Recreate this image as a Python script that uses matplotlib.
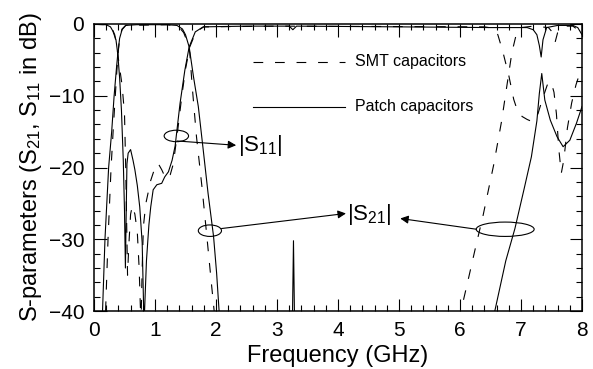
import matplotlib
matplotlib.use("Agg")
import matplotlib.pyplot as plt
from matplotlib.patches import Ellipse
from matplotlib.ticker import MultipleLocator

plt.rcParams["font.family"] = ["Liberation Sans", "DejaVu Sans"]
plt.rcParams["mathtext.fontset"] = "custom"
plt.rcParams["mathtext.rm"] = "Liberation Sans"
plt.rcParams["mathtext.it"] = "Liberation Sans"
plt.rcParams["lines.scale_dashes"] = False

# |S21| with patch capacitors (solid)
f_s21_patch = [0.13, 0.14, 0.18, 0.24, 0.29, 0.33, 0.37, 0.39, 0.42, 0.46, 0.52, 0.7,
               1.2, 1.36, 1.45, 1.50, 1.56, 1.63, 1.71, 1.79, 1.87, 1.96, 2.01, 2.05,
               2.08, 3.25, 3.27, 3.29, 6.50, 6.57, 6.75, 6.90, 7.05, 7.17, 7.26, 7.30,
               7.34, 7.39, 7.48, 7.59, 7.69, 7.80, 7.91, 8.0]
s21_patch = [-43, -40, -30, -20, -15, -10, -6, -4.2, -2, -0.8, -0.2, -0.1,
             -0.1, -0.2, -0.7, -1.5, -3.2, -7.3, -11.5, -17.5, -23.6, -29.6, -34.7, -39.9,
             -43, -43, -30.2, -43, -43, -40, -33, -28.5, -23, -18.5, -13.5, -9.7,
             -6.9, -10.6, -13.4, -15.7, -17.1, -16.2, -13.8, -11.5]

# |S11| with patch capacitors (solid)
f_s11_patch = [0.0, 0.2, 0.27, 0.31, 0.36, 0.39, 0.42, 0.45, 0.48, 0.50, 0.515, 0.525,
               0.54, 0.56, 0.60, 0.64, 0.67, 0.71, 0.75, 0.79, 0.82, 0.86, 0.90, 0.93,
               0.97, 1.03, 1.11, 1.16, 1.22, 1.28, 1.33, 1.41, 1.49, 1.56, 1.66, 1.79,
               2.5, 3.2, 3.26, 3.32, 5.0, 6.5, 7.1, 7.2, 7.26, 7.30, 7.33, 7.36,
               7.42, 7.6, 7.85, 7.93, 8.0]
s11_patch = [-0.05, -0.1, -0.4, -1, -2.2, -4.2, -7.5, -12, -19, -26, -34, -28,
             -19.5, -18, -17.5, -19, -20.3, -22.5, -25.5, -30.5, -42, -33, -28, -25.5,
             -23.1, -22.4, -22.2, -21.3, -20.6, -19, -17, -11.1, -6.4, -3.2, -1.1, -0.4,
             -0.3, -0.3, -0.8, -0.3, -0.4, -0.5, -0.5, -0.8, -1.5, -3, -4.6, -2.2,
             -0.5, -0.2, -0.2, -0.5, -1.5]

# |S21| with SMT capacitors (dashed)
f_s21_smt = [0.17, 0.19, 0.23, 0.28, 0.32, 0.36, 0.39, 0.42, 0.46, 0.52, 1.2, 1.38,
             1.47, 1.53, 1.57, 1.61, 1.68, 1.77, 1.85, 1.93, 1.97, 2.0, 5.95, 6.0,
             6.05, 6.14, 6.25, 6.38, 6.55, 6.68, 6.77, 6.85, 6.92, 7.0, 7.2, 7.45,
             7.52, 7.56, 7.6, 7.7, 7.85, 7.93, 8.0]
s21_smt = [-43, -40, -30, -20, -14, -8.5, -4.5, -2, -0.7, -0.2, -0.1, -0.3,
           -1.2, -2.5, -4, -8.7, -15.7, -22.7, -29.6, -36.6, -40, -43, -43, -40,
           -38.7, -35.4, -31.3, -26.6, -19.7, -13.6, -8.5, -4, -1.5, -0.5, -0.3, -0.5,
           -1.2, -2.5, -1.2, -0.3, -0.3, -0.8, -1.5]

# |S11| with SMT capacitors (dashed)
f_s11_smt = [0.0, 0.22, 0.29, 0.34, 0.38, 0.41, 0.46, 0.50, 0.52, 0.54, 0.55, 0.57,
             0.60, 0.63, 0.67, 0.71, 0.74, 0.77, 0.79, 0.81, 0.85, 0.93, 1.0, 1.05,
             1.11, 1.18, 1.25, 1.30, 1.37, 1.44, 1.50, 1.57, 1.67, 1.8, 3.0, 6.4,
             6.55, 6.62, 6.70, 6.80, 6.88, 6.95, 7.02, 7.10, 7.18, 7.26, 7.35, 7.43,
             7.49, 7.54, 7.58, 7.62, 7.66, 7.70, 7.76, 7.83, 7.90, 7.95, 8.0]
s11_smt = [-0.05, -0.1, -0.5, -1.5, -3.5, -5.5, -8.5, -12.5, -20, -30, -35, -31,
           -26.5, -25.3, -26.5, -29, -34, -42, -34, -28.2, -25, -21.8, -20, -19.4,
           -20.3, -21.6, -21, -19.5, -15, -10, -6.3, -3.2, -1.1, -0.4, -0.3, -0.4,
           -0.6, -1.5, -3.8, -7.2, -10.5, -12.3, -12.9, -13.3, -13.6, -13, -10.5, -8.5,
           -8, -9.5, -12.5, -17.5, -20.8, -19, -14.5, -11, -8.5, -7.2, -6]

# annotation geometry (GHz, dB)
ell_s11 = (1.35, -15.6, 0.40, 1.6)
ell_s21_low = (1.90, -28.8, 0.38, 1.6)
ell_s21_high = (6.74, -28.6, 0.95, 2.0)

fig = plt.figure(figsize=(5.93, 3.69), dpi=100)
ax = fig.add_axes([0.1585, 0.157, 0.823, 0.778])

lw = 0.8
dash = (0, (7, 8.5))
ax.plot(f_s21_patch, s21_patch, color="black", lw=lw)
ax.plot(f_s11_patch, s11_patch, color="black", lw=lw)
ax.plot(f_s21_smt, s21_smt, color="black", lw=lw, linestyle=dash)
ax.plot(f_s11_smt, s11_smt, color="black", lw=lw, linestyle=dash)

ax.set_xlim(0, 8)
ax.set_ylim(-40, 0)
ax.xaxis.set_major_locator(MultipleLocator(1))
ax.xaxis.set_minor_locator(MultipleLocator(0.2))
ax.yaxis.set_major_locator(MultipleLocator(10))
ax.yaxis.set_minor_locator(MultipleLocator(2))
ax.tick_params(which="both", direction="in", top=True, right=True,
               labelsize=15, pad=7, width=0.8)
ax.tick_params(which="major", length=9)
ax.tick_params(which="minor", length=4.5)
for sp in ax.spines.values():
    sp.set_linewidth(1.1)

ax.set_xlabel("Frequency (GHz)", fontsize=17, labelpad=4)
ax.set_ylabel("S-parameters (S$_{21}$, S$_{11}$ in dB)", fontsize=17, labelpad=3)

# legend drawn by hand, like the original
ax.plot([2.61, 4.11], [-5.25, -5.25], color="black", lw=lw, linestyle=dash)
ax.plot([2.61, 4.11], [-11.5, -11.5], color="black", lw=lw)
ax.text(4.28, -5.25, "SMT capacitors", fontsize=11.5, va="center")
ax.text(4.28, -11.5, "Patch capacitors", fontsize=11.5, va="center")

for cx, cy, w, h in [ell_s11, ell_s21_low, ell_s21_high]:
    ax.add_patch(Ellipse((cx, cy), w, h, fill=False, color="black", lw=0.8))

arrow = dict(arrowstyle="-|>", color="black", lw=0.8, mutation_scale=12,
             shrinkA=0, shrinkB=0)
ax.annotate("", xy=(2.33, -16.9), xytext=(1.36, -16.3), arrowprops=arrow)
ax.annotate("", xy=(4.13, -26.4), xytext=(2.09, -28.5), arrowprops=arrow)
ax.annotate("", xy=(5.02, -27.1), xytext=(6.27, -28.6), arrowprops=arrow)
ax.text(2.36, -17.0, "|S$_{11}$|", fontsize=16, va="center")
ax.text(4.15, -26.5, "|S$_{21}$|", fontsize=16, va="center")

plt.savefig("out.png", dpi=100)
plt.close()
